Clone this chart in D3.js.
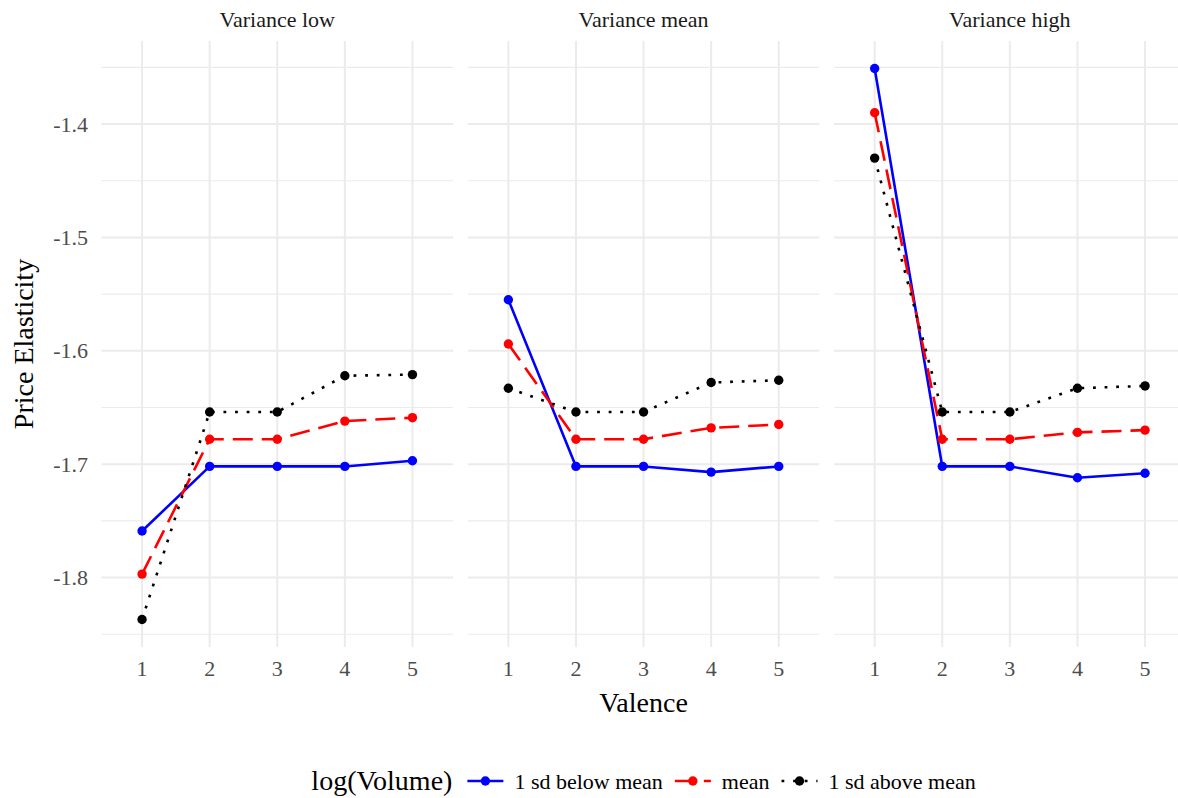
<!DOCTYPE html>
<html>
<head>
<meta charset="utf-8">
<script src="https://cdn.jsdelivr.net/npm/d3@7"></script>
<style>
  html, body { margin: 0; padding: 0; background: #ffffff; }
  svg { display: block; font-family: "Liberation Serif", "DejaVu Serif", serif; }
</style>
</head>
<body>
<svg id="chart" width="1178" height="798"></svg>
<script>
// Valence levels on the x axis
const valence = [1, 2, 3, 4, 5];

// Facet titles
const facets = ["Variance low", "Variance mean", "Variance high"];

// Moderator levels (legend order)
const volumeLevels = ["1 sd below mean", "mean", "1 sd above mean"];

// Price elasticity by valence — Variance low
const lowBelow = [-1.759, -1.702, -1.702, -1.702, -1.697];
const lowMean  = [-1.797, -1.678, -1.678, -1.662, -1.659];
const lowAbove = [-1.837, -1.654, -1.654, -1.622, -1.621];

// Price elasticity by valence — Variance mean
const meanBelow = [-1.555, -1.702, -1.702, -1.707, -1.702];
const meanMean  = [-1.594, -1.678, -1.678, -1.668, -1.665];
const meanAbove = [-1.633, -1.654, -1.654, -1.628, -1.626];

// Price elasticity by valence — Variance high
const highBelow = [-1.351, -1.702, -1.702, -1.712, -1.708];
const highMean  = [-1.390, -1.678, -1.678, -1.672, -1.670];
const highAbove = [-1.430, -1.654, -1.654, -1.633, -1.631];

// Y axis ticks
const yMajor = [-1.4, -1.5, -1.6, -1.7, -1.8];
const yMinor = [-1.35, -1.45, -1.55, -1.65, -1.75, -1.85];
const yTickLabels = ["-1.4", "-1.5", "-1.6", "-1.7", "-1.8"];

// Assemble rows for drawing
const panelSeries = [
  [lowBelow, lowMean, lowAbove],
  [meanBelow, meanMean, meanAbove],
  [highBelow, highMean, highAbove]
];

const styles = {
  "1 sd below mean": { color: "#0000ff", dash: null },
  "mean":            { color: "#ff0000", dash: "20,9" },
  "1 sd above mean": { color: "#000000", dash: "2.8,8.8" }
};

const svg = d3.select("#chart");

const panelLeft = 101.5, panelW = 351.5, panelGap = 14.8;
const panelTop = 41, panelBottom = 647;

const allVals = panelSeries.flat(2);
const [vMin, vMax] = d3.extent(allVals);
const pad = (vMax - vMin) * 0.05;
const y = d3.scaleLinear().domain([vMin - pad, vMax + pad]).range([panelBottom, panelTop]);

const gridColor = "#ebebeb";

facets.forEach((facet, i) => {
  const x0 = panelLeft + i * (panelW + panelGap);
  const x = d3.scalePoint().domain(valence).range([x0, x0 + panelW]).padding(0.6);
  const g = svg.append("g").attr("class", "panel");

  // minor horizontal grid
  g.selectAll(".minor").data(yMinor.filter(v => y(v) >= panelTop && y(v) <= panelBottom))
    .join("line")
    .attr("x1", x0).attr("x2", x0 + panelW)
    .attr("y1", d => y(d)).attr("y2", d => y(d))
    .attr("stroke", gridColor).attr("stroke-width", 1.1);

  // major horizontal grid
  g.selectAll(".major").data(yMajor)
    .join("line")
    .attr("x1", x0).attr("x2", x0 + panelW)
    .attr("y1", d => y(d)).attr("y2", d => y(d))
    .attr("stroke", gridColor).attr("stroke-width", 2);

  // vertical grid
  g.selectAll(".vgrid").data(valence)
    .join("line")
    .attr("x1", d => x(d)).attr("x2", d => x(d))
    .attr("y1", panelTop).attr("y2", panelBottom)
    .attr("stroke", gridColor).attr("stroke-width", 2);

  // strip label
  svg.append("text")
    .attr("x", x0 + panelW / 2).attr("y", 27)
    .attr("text-anchor", "middle")
    .attr("font-size", 22).attr("fill", "#1a1a1a")
    .text(facet);

  // x tick labels
  g.selectAll(".xtick").data(valence)
    .join("text")
    .attr("x", d => x(d)).attr("y", 676)
    .attr("text-anchor", "middle")
    .attr("font-size", 22).attr("fill", "#4d4d4d")
    .text(d => d);

  const line = d3.line().x((d, k) => x(valence[k])).y(d => y(d));

  // lines
  panelSeries[i].forEach((vals, s) => {
    const st = styles[volumeLevels[s]];
    g.append("path")
      .attr("d", line(vals))
      .attr("fill", "none")
      .attr("stroke", st.color)
      .attr("stroke-width", 2.6)
      .attr("stroke-dasharray", st.dash)
      .attr("stroke-linejoin", "round");
  });

  // points
  panelSeries[i].forEach((vals, s) => {
    const st = styles[volumeLevels[s]];
    g.selectAll(null).data(vals)
      .join("circle")
      .attr("cx", (d, k) => x(valence[k]))
      .attr("cy", d => y(d))
      .attr("r", 4.7)
      .attr("fill", st.color);
  });
});

// y tick labels
svg.selectAll(".ytick").data(yMajor)
  .join("text")
  .attr("x", 88).attr("y", d => y(d) + 7.5)
  .attr("text-anchor", "end")
  .attr("font-size", 22).attr("fill", "#4d4d4d")
  .text((d, k) => yTickLabels[k]);

// axis titles
const plotRight = panelLeft + 3 * panelW + 2 * panelGap;
svg.append("text")
  .attr("x", (panelLeft + plotRight) / 2).attr("y", 712)
  .attr("text-anchor", "middle")
  .attr("font-size", 28).attr("fill", "#000")
  .text("Valence");

svg.append("text")
  .attr("transform", `translate(33,${(panelTop + panelBottom) / 2}) rotate(-90)`)
  .attr("text-anchor", "middle")
  .attr("font-size", 28).attr("fill", "#000")
  .text("Price Elasticity");

// legend
const legend = svg.append("g").attr("class", "legend");
const legendY = 781;
const keyW = 36;
const title = legend.append("text")
  .attr("x", 0).attr("y", legendY + 9)
  .attr("font-size", 28).attr("fill", "#000")
  .text("log(Volume)");
let cursor = title.node().getComputedTextLength() + 15;

volumeLevels.forEach((name, s) => {
  const st = styles[name];
  legend.append("line")
    .attr("x1", cursor).attr("x2", cursor + keyW)
    .attr("y1", legendY).attr("y2", legendY)
    .attr("stroke", st.color).attr("stroke-width", 2.6)
    .attr("stroke-dasharray", st.dash);
  legend.append("circle")
    .attr("cx", cursor + keyW / 2).attr("cy", legendY)
    .attr("r", 4.7).attr("fill", st.color);
  cursor += keyW + 11;
  const lbl = legend.append("text")
    .attr("x", cursor).attr("y", legendY + 7.5)
    .attr("font-size", 22).attr("fill", "#000")
    .text(name);
  cursor += lbl.node().getComputedTextLength() + 12;
});
const legendW = cursor - 12;
const legendCenter = (panelLeft + plotRight) / 2;
legend.attr("transform", `translate(${legendCenter - legendW / 2},0)`);
</script>
</body>
</html>
